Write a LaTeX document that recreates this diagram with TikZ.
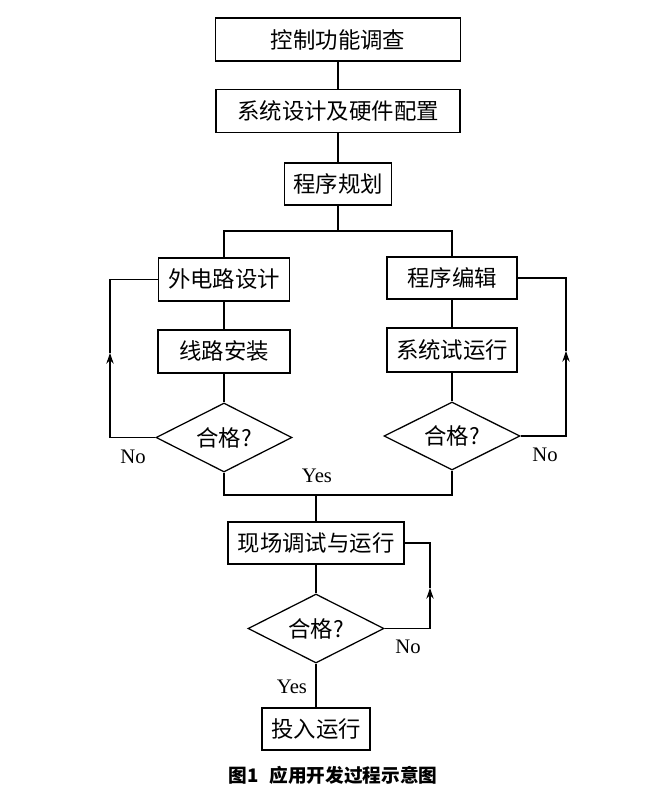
\documentclass[tikz,border=0pt]{standalone}
\usepackage{fontspec}
\setmainfont{Liberation Serif}
\newfontfamily\cjk{Noto Sans CJK SC}
\usetikzlibrary{shapes.geometric,arrows.meta}
\begin{document}
\begin{tikzpicture}[x=0.75pt,y=-0.75pt,
  line width=0.8pt,
  box/.style 2 args={draw,line width=0.95pt,inner sep=0pt,minimum width=#1*0.75pt,minimum height=#2*0.75pt,font=\cjk\fontsize{16.8}{18}\selectfont},
  dec/.style 2 args={draw,diamond,line width=0.95pt,inner sep=0pt,shape aspect=2,minimum width=#1*0.75pt,minimum height=#2*0.75pt,font=\cjk\fontsize{16.8}{18}\selectfont},
  lbl/.style={font=\fontsize{15.5}{17}\selectfont,inner sep=0pt},
  arr/.style={-{Stealth[length=8pt,width=5.5pt]}}
]
\useasboundingbox (0,0) rectangle (664,800);

% nodes
\node[box={245}{43}] (b1) at (338,39.5) {控制功能调查};
\node[box={244}{43}] (b2) at (338,111) {系统设计及硬件配置};
\node[box={107}{42}] (b3) at (338,184) {程序规划};
\node[box={131}{43}] (b4) at (224,279.5) {外电路设计};
\node[box={130}{42}] (b5) at (452,278) {程序编辑};
\node[box={132}{43}] (b6) at (224,351.5) {线路安装};
\node[box={130}{44}] (b7) at (452,350) {系统试运行};
\node[dec={136}{69}] (d1) at (224,437.5) {合格?};
\node[dec={136}{68}] (d2) at (452,436) {合格?};
\node[box={176}{42}] (b8) at (316,543) {现场调试与运行};
\node[dec={136}{69}] (d3) at (316,628.5) {合格?};
\node[box={108}{42}] (b9) at (316,729) {投入运行};

% coordinates
\coordinate (br) at (338,231);
\coordinate (mg) at (316,495);
\coordinate (la) at (110,353);
\coordinate (ra) at (566,351);
\coordinate (ba) at (430,588);

% connectors
\draw (b1) -- (b2);
\draw (b2) -- (b3);
\draw (b3) -- (br);
\draw (b4.north) |- (br) -| (b5.north);
\draw (b4) -- (b6);
\draw (b6) -- (d1);
\draw (b5) -- (b7);
\draw (b7) -- (d2);
\draw (d1.south) |- (mg) -| (d2.south);
\draw (mg) -- (b8.north);
\draw (b8) -- (d3);
\draw (d3) -- (b9);

\draw[arr] (d1.west) -| (la);
\draw (la) |- (b4.west);
\draw[arr] (d2.east) -| (ra);
\draw (ra) |- (b5.east);
\draw[arr] (d3.east) -| (ba);
\draw (ba) |- (b8.east);

% labels
\node[lbl] (n1) at (133,457) {No};
\node[lbl] (n2) at (545,455) {No};
\node[lbl] (y1) at (317,476) {Yes};
\node[lbl] (n3) at (408,647) {No};
\node[lbl] (y2) at (292,687) {Yes};

\node[font=\cjk\bfseries\fontsize{14}{16}\selectfont,inner sep=0pt] (cap) at (333,775) {图1\hspace{0.6em}应用开发过程示意图};
\end{tikzpicture}
\end{document}
